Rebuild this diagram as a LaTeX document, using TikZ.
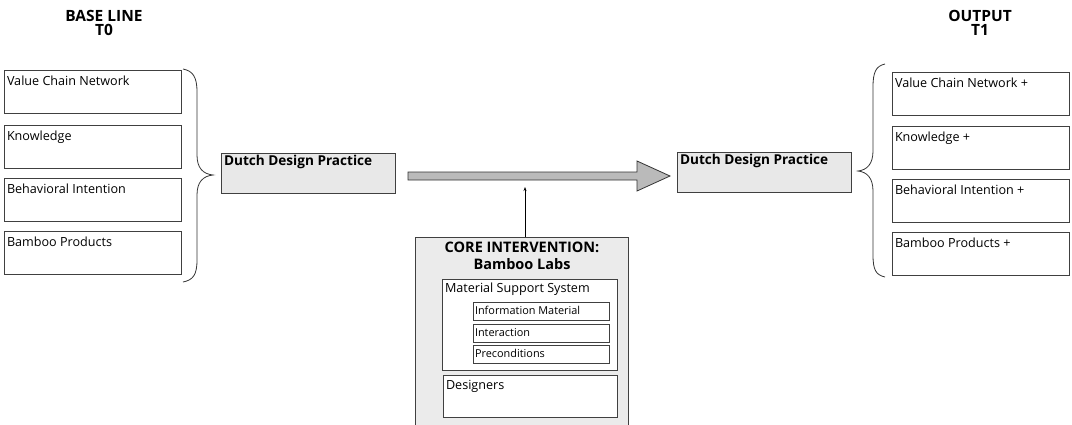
\documentclass[tikz,border=0pt]{standalone}
\usepackage{fontspec}
\setmainfont{Open Sans}
\usetikzlibrary{calc,arrows.meta}
\begin{document}
\begin{tikzpicture}[x=1pt,y=-1pt,
  every node/.style={inner sep=0pt, outer sep=0pt},
  factor/.style={draw=black!75, line width=0.7pt, fill=white, anchor=north west,
    minimum width=177pt, minimum height=43pt},
  practice/.style={draw=black!75, line width=0.7pt, fill=black!9, anchor=north west,
    minimum width=174pt, minimum height=40pt},
  inner/.style={draw=black!75, line width=0.7pt, fill=white, anchor=north west},
  lbl/.style={font=\fontsize{12.6}{14}\selectfont},
  smalllbl/.style={font=\fontsize{10.9}{12}\selectfont},
  boldlbl/.style={font=\fontsize{13.6}{15}\selectfont\bfseries},
  heading/.style={font=\fontsize{15.5}{14}\selectfont\bfseries, align=center, anchor=base},
  toplabel/.style={label={[lbl, anchor=base west, xshift=3pt, yshift=-15pt]north west:#1}},
  bracestyle/.style={draw=black!80, line width=0.8pt}
]
\useasboundingbox (0,0) rectangle (1072,424);

% column headings (anchored on the baseline of their second line)
\node[heading] (base) at (104,35.5) {BASE LINE\\T0};
\node[heading] (out) at (980,35.5) {OUTPUT\\T1};

% baseline factors
\foreach \name/\txt/\y in {b1/Value Chain Network/70, b2/Knowledge/125,
    b3/Behavioral Intention/178, b4/Bamboo Products/231} {
  \node[factor, toplabel=\txt] (\name) at (4,\y) {};
}

% output factors
\foreach \name/\txt/\y in {o1/Value Chain Network +/72, o2/Knowledge +/126,
    o3/Behavioral Intention +/179, o4/Bamboo Products +/232} {
  \node[factor, toplabel=\txt] (\name) at (892,\y) {};
}

% braces
\draw[bracestyle] (183,69) .. controls (193,71) and (197,77) .. (197,92)
  -- (197,155) .. controls (197,168) and (203,174) .. (213,175)
  .. controls (203,176) and (197,182) .. (197,195)
  -- (197,260) .. controls (197,275) and (193,280) .. (183,282);
\draw[bracestyle] (885,64) .. controls (876,66) and (873,72) .. (873,87)
  -- (873,151) .. controls (873,164) and (867,170) .. (858,171)
  .. controls (867,172) and (873,178) .. (873,191)
  -- (873,255) .. controls (873,270) and (876,275) .. (885,277);

% design practice before and after
\node[practice, label={[boldlbl, anchor=base west, xshift=3pt, yshift=-12.5pt]north west:Dutch Design Practice}] (dl) at (221,153) {};
\node[practice, label={[boldlbl, anchor=base west, xshift=3pt, yshift=-12.5pt]north west:Dutch Design Practice}] (dr) at (677,152) {};

% block arrow between them
\coordinate (as) at ($(dl.east)+(13,3)$);
\coordinate (ae) at ($(dr.west)+(-7,4)$);
\draw[draw=black!80, line width=0.8pt, fill=black!27]
  ($(as)+(0,-4)$) -- ($(ae)+(-33,-4)$) -- ($(ae)+(-33,-15)$) -- (ae)
  -- ($(ae)+(-33,15)$) -- ($(ae)+(-33,4)$) -- ($(as)+(0,4)$) -- cycle;

% core intervention
\node[draw=black!75, line width=0.7pt, fill=black!8, anchor=north west,
  minimum width=213pt, minimum height=200pt] (core) at (415,237) {};
\node[heading, font=\fontsize{14.5}{17}\selectfont\bfseries] (coret) at (522,269) {CORE INTERVENTION:\\Bamboo Labs};
\node[inner, minimum width=175pt, minimum height=91pt,
  label={[lbl, anchor=base west, xshift=3pt, yshift=-13.5pt]north west:Material Support System}] (mss) at (442,279) {};
\foreach \name/\txt/\y in {i1/Information Material/302, i2/Interaction/324, i3/Preconditions/345} {
  \node[inner, minimum width=136pt, minimum height=18pt,
    label={[smalllbl, anchor=base west, xshift=2pt, yshift=-3.5pt]west:\txt}] (\name) at (473,\y) {};
}
\node[inner, minimum width=174pt, minimum height=42pt,
  label={[lbl, anchor=base west, xshift=3pt, yshift=-14pt]north west:Designers}] (des) at (443,375) {};

% influence of the intervention on the transition
\coordinate (hit) at (525,187);
\draw[-{Stealth[length=4pt,width=3pt]}, line width=0.6pt] (core.north -| hit) -- (hit);
\end{tikzpicture}
\end{document}
